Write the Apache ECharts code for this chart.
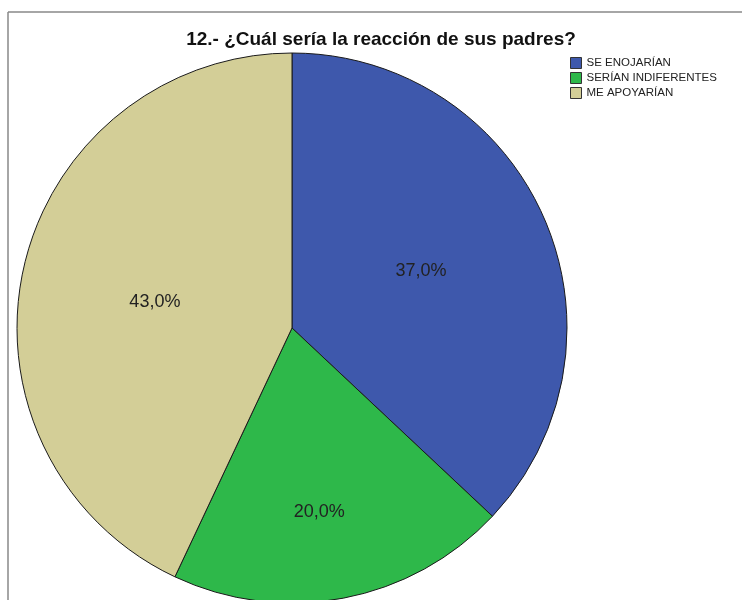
<!DOCTYPE html>
<html>
<head>
<meta charset="utf-8">
<script src="https://cdn.jsdelivr.net/npm/echarts@6/dist/echarts.min.js"></script>
<style>
  html, body { margin: 0; padding: 0; background: #fff; }
  #chart { width: 742px; height: 600px; }
</style>
</head>
<body>
<div id="chart"></div>
<script>
const titleText = '12.- ¿Cuál sería la reacción de sus padres?'
const categories = ['SE ENOJARÍAN', 'SERÍAN INDIFERENTES', 'ME APOYARÍAN']
const percents = [37.0, 20.0, 43.0]
const colors = ['#3e58ac', '#2eb84a', '#d3ce97']

const mychart = echarts.init(document.getElementById('chart'))

// label nudges so they sit where the original puts them
const labelOffsets = [[0, -1], [1, 46], [0, 5]]

mychart.setOption({
  animation: false,
  title: {
    text: titleText,
    left: 381,
    top: 30,
    padding: 0,
    textAlign: 'center',
    textStyle: {
      fontFamily: 'Liberation Sans',
      fontSize: 19,
      fontWeight: 'bold',
      color: '#111'
    }
  },
  legend: {
    orient: 'vertical',
    left: 570,
    top: 57,
    padding: 0,
    itemWidth: 11,
    itemHeight: 11,
    itemGap: 3,
    icon: 'rect',
    data: categories,
    textStyle: {
      fontFamily: 'Liberation Sans',
      fontSize: 11.5,
      color: '#222'
    },
    itemStyle: {
      borderColor: '#333',
      borderWidth: 1
    }
  },
  graphic: [
    { type: 'line', shape: { x1: 8, y1: 12, x2: 742, y2: 12 }, style: { stroke: '#888', lineWidth: 1.5 } },
    { type: 'line', shape: { x1: 8, y1: 12, x2: 8, y2: 600 }, style: { stroke: '#888', lineWidth: 1.5 } }
  ],
  series: [{
    type: 'pie',
    center: [292, 328],
    radius: 275,
    startAngle: 90,
    clockwise: true,
    avoidLabelOverlap: false,
    itemStyle: {
      borderColor: '#1a1a1a',
      borderWidth: 1
    },
    label: {
      position: 'inside',
      fontFamily: 'Liberation Sans',
      fontSize: 18,
      color: '#222',
      formatter: p => p.value.toFixed(1).replace('.', ',') + '%'
    },
    emphasis: { disabled: true },
    data: categories.map((name, i) => ({
      name: name,
      value: percents[i],
      itemStyle: { color: colors[i] },
      label: { offset: labelOffsets[i] }
    }))
  }]
})
</script>
</body>
</html>
